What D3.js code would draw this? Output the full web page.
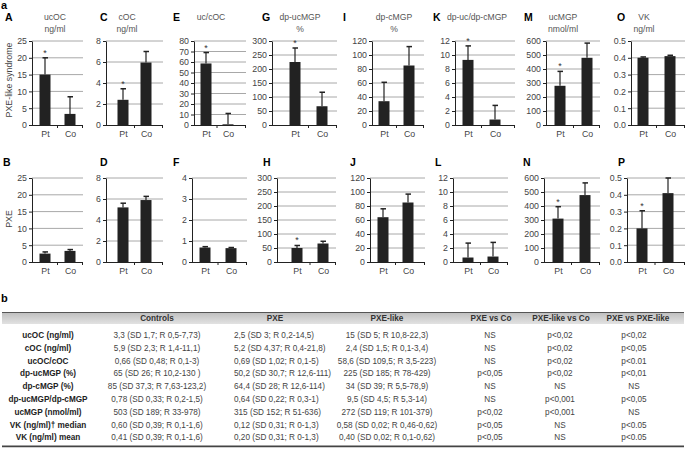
<!DOCTYPE html>
<html><head><meta charset="utf-8">
<script src="https://cdn.jsdelivr.net/npm/d3@7"></script>
<style>
body{margin:0;background:#fff;}
svg{display:block;font-family:"Liberation Sans",Arial,sans-serif;}
</style></head>
<body><svg id="c" width="685" height="451"></svg>
<script>
// ---------- DATA ----------
const panelLetters = ["A","C","E","G","I","K","M","O","B","D","F","H","J","L","N","P"];
const titleLine1 = ["ucOC","cOC","uc/cOC","dp-ucMGP","dp-cMGP","dp-uc/dp-cMGP","ucMGP","VK"];
const titleLine2 = ["ng/ml","ng/ml","","%","%","","nmol/ml","ng/ml"];
const groups = ["Pt","Co"];
const rowLabels = ["PXE-like syndrome","PXE"];
const yMax  = [25,8,80,300,120,12,600,0.5, 25,8,4,300,120,12,600,0.5];
const yStep = [5,2,10,50,20,2,100,0.1, 5,2,1,50,20,2,100,0.1];
const ptValues = [15,2.4,58.6,225,34,9.3,280,0.40, 2.5,5.2,0.69,50,64,0.64,310,0.20];
const ptErrTop = [20,3.45,69,275,61,11.3,383,0.405, 3.0,5.6,0.73,59,76,2.7,395,0.305];
const coValues = [3.3,5.95,0.66,67,85,0.78,480,0.41, 3.3,5.9,0.66,66,85,0.78,478,0.41];
const coErrTop = [8.4,7.0,11,117,112,2.8,585,0.415, 3.7,6.25,0.69,74,97,2.8,565,0.5];
const ptStar = [1,1,1,1,0,1,1,0, 0,0,0,1,0,0,1,1];

const tableHeaders = ["Controls","PXE","PXE-like","PXE vs Co","PXE-like vs Co","PXE vs PXE-like"];
const tableRowLabels = ["ucOC (ng/ml)","cOC (ng/ml)","ucOC/cOC","dp-ucMGP (%)","dp-cMGP (%)","dp-ucMGP/dp-cMGP","ucMGP (nmol/ml)","VK (ng/ml)† median","VK (ng/ml)  mean"];
const colControls = ["3,3 (SD 1,7; R 0,5-7,73)","5,9 (SD 2,3; R 1,4-11,1)","0,66 (SD 0,48; R 0,1-3)","65 (SD 26; R 10,2-130 )","85 (SD 37,3; R 7,63-123,2)","0,78 (SD 0,33; R 0,2-1,5)","503 (SD 189; R 33-978)","0,60 (SD 0,39; R 0,1-1,6)","0,41 (SD 0,39; R 0,1-1,6)"];
const colPXE = ["2,5 (SD 3; R 0,2-14,5)","5,2 (SD 4,37; R 0,4-21,8)","0,69 (SD 1,02; R 0,1-5)","50,2 (SD 30,7; R 12,6-111)","64,4 (SD 28; R 12,6-114)","0,64 (SD 0,22; R 0,3-1)","315 (SD 152; R 51-636)","0,12 (SD 0,31; R 0-1,3)","0,20 (SD 0,31; R 0-1,3)"];
const colPXElike = ["15 (SD 5; R 10,8-22,3)","2,4 (SD 1,5; R 0,1-3,4)","58,6 (SD 109,5; R 3,5-223)","225 (SD 185; R 78-429)","34 (SD 39; R 5,5-78,9)","9,5 (SD 4,5; R 5,3-14)","272 (SD 119; R 101-379)","0,58 (SD 0,02; R 0,46-0,62)","0,40 (SD 0,02; R 0,1-0,62)"];
const colPXEvsCo = ["NS","NS","NS","p<0,05","NS","NS","p<0,02","p<0,05","p<0,05"];
const colPXElikeVsCo = ["p<0,02","p<0,02","p<0,02","p<0,02","NS","p<0,001","p<0,001","NS","NS"];
const colPXEvsPXElike = ["p<0,02","p<0,05","p<0.01","p<0,01","NS","p<0,05","NS","p<0.05","p<0.05"];

// ---------- LAYOUT ----------
const layout = [
 {ax:32,end:83,pt:45,co:70},{ax:106,end:163,pt:123,co:146},{ax:194,end:246,pt:206,co:228},{ax:272,end:337,pt:295,co:322},
 {ax:372,end:424,pt:384,co:409},{ax:455,end:515,pt:468,co:495},{ax:546,end:600,pt:560,co:587},{ax:631,end:685,pt:643,co:670},
 {ax:32,end:83,pt:45,co:70},{ax:106,end:163,pt:123,co:146},{ax:192,end:247,pt:205,co:231},{ax:277,end:336,pt:297,co:323},
 {ax:370,end:425,pt:383,co:408},{ax:453,end:508,pt:468,co:493},{ax:544,end:600,pt:558,co:585},{ax:627,end:685,pt:642,co:668}
];
const letterX = [5,100,173,262,343,433,524,617, 3,100,173,263,350,435,523,618];
const titleX = [55,127,211,300,394,477,563,644];
const rowTop = [41,178], rowBot = [125,262];
const barW = 11;

const svg = d3.select("#c");
svg.append("text").attr("x",1).attr("y",9).attr("font-size",11).attr("font-weight","bold").text("a");

svg.append("text").attr("transform","translate(12,80) rotate(-90)").attr("text-anchor","middle")
  .attr("font-size",8.8).attr("fill","#444").text(rowLabels[0]);
svg.append("text").attr("transform","translate(12,219) rotate(-90)").attr("text-anchor","middle")
  .attr("font-size",8.8).attr("fill","#444").text(rowLabels[1]);

panelLetters.forEach((L,i)=>{
  const r = i<8?0:1, lay = layout[i];
  const g = svg.append("g");
  const y = d3.scaleLinear().domain([0,yMax[i]]).range([rowBot[r],rowTop[r]]);
  const x = d3.scalePoint().domain(groups).range([lay.pt,lay.co]);
  const ticks = d3.range(0, yMax[i]+yStep[i]/2, yStep[i]);
  const fmt = yStep[i]<1 ? d3.format(".1f") : d3.format("d");
  g.append("text").attr("x",letterX[i]).attr("y", r===0?21:166).attr("font-size",10.5)
   .attr("font-weight","bold").text(L);
  if(r===0){
    g.append("text").attr("x",titleX[i]).attr("y",20).attr("text-anchor","middle").attr("font-size",8.6)
     .attr("fill","#555").text(titleLine1[i]);
    if(titleLine2[i]) g.append("text").attr("x",titleX[i]).attr("y",32).attr("text-anchor","middle")
     .attr("font-size",8.6).attr("fill","#555").text(titleLine2[i]);
  }
  g.selectAll(".grid").data(ticks.filter(t=>t>0)).enter().append("line")
   .attr("x1",lay.ax).attr("x2",lay.end).attr("y1",d=>y(d)).attr("y2",d=>y(d))
   .attr("stroke","#a8a8a8").attr("stroke-width",1);
  const ya = g.append("g").attr("transform",`translate(${lay.ax},0)`)
    .call(d3.axisLeft(y).tickValues(ticks).tickFormat(fmt).tickSize(3).tickSizeOuter(0).tickPadding(2));
  ya.selectAll("text").attr("font-size",8.8).attr("fill","#444").attr("font-family","Liberation Sans, Arial, sans-serif");
  ya.select(".domain").attr("stroke","#222");
  ya.selectAll(".tick line").attr("stroke","#222");
  const vals=[ptValues[i],coValues[i]], errs=[ptErrTop[i],coErrTop[i]];
  groups.forEach((gname,k)=>{
    const cx=x(gname);
    g.append("line").attr("x1",cx).attr("x2",cx).attr("y1",y(vals[k])).attr("y2",y(errs[k]))
      .attr("stroke","#222").attr("stroke-width",1.2);
    g.append("line").attr("x1",cx-2.5).attr("x2",cx+3).attr("y1",y(errs[k])).attr("y2",y(errs[k]))
      .attr("stroke","#222").attr("stroke-width",1.5);
    g.append("rect").attr("x",cx-barW/2).attr("width",barW).attr("y",y(vals[k]))
      .attr("height",y(0)-y(vals[k])).attr("fill","#222");
  });
  if(ptStar[i]) g.append("text").attr("x",x("Pt")).attr("y",y(ptErrTop[i])-2).attr("text-anchor","middle")
     .attr("font-size",9).attr("fill","#333").text("*");
  const xa = g.append("g").attr("transform",`translate(0,${rowBot[r]})`)
    .call(d3.axisBottom(x).tickSize(0).tickPadding(6));
  xa.select(".domain").remove();
  xa.selectAll("text").attr("font-size",8.8).attr("fill","#444").attr("font-family","Liberation Sans, Arial, sans-serif");
  g.append("line").attr("x1",lay.ax).attr("x2",lay.end).attr("y1",rowBot[r]+0.5).attr("y2",rowBot[r]+0.5).attr("stroke","#222");
  const mid=(x("Pt")+x("Co"))/2;
  [mid,lay.end-0.5].forEach(tx=>g.append("line").attr("x1",tx).attr("x2",tx).attr("y1",rowBot[r]).attr("y2",rowBot[r]+3).attr("stroke","#222"));
});

// ---------- TABLE ----------
svg.append("text").attr("x",1).attr("y",302).attr("font-size",11).attr("font-weight","bold").text("b");
const defs = svg.append("defs");
const grad = defs.append("linearGradient").attr("id","hg").attr("x1",0).attr("x2",0).attr("y1",0).attr("y2",1);
grad.append("stop").attr("offset","0%").attr("stop-color","#bdbdbd");
grad.append("stop").attr("offset","100%").attr("stop-color","#e2e2e2");
const tTop=312, hH=12, row0=335, rowH=12.8;
svg.append("rect").attr("x",2).attr("y",tTop).attr("width",682).attr("height",hH).attr("fill","url(#hg)");
svg.append("line").attr("x1",2).attr("x2",684).attr("y1",tTop+0.5).attr("y2",tTop+0.5).attr("stroke","#555").attr("stroke-width",1);
const colX=[157,275,387,491,561,638];
tableHeaders.forEach((h,j)=>svg.append("text").attr("x",colX[j]).attr("y",tTop+9).attr("text-anchor","middle")
  .attr("font-size",8.2).attr("font-weight","bold").attr("fill","#333").text(h));
const cols=[colControls,colPXE,colPXElike,colPXEvsCo,colPXElikeVsCo,colPXEvsPXElike];
const colValX=[157,234,387,490,560,634];
tableRowLabels.forEach((lab,k)=>{
  const yy=row0+k*rowH+3;
  svg.append("text").attr("x",48).attr("y",yy).attr("text-anchor","middle").attr("font-size",8.2)
    .attr("font-weight","bold").attr("fill","#222").text(lab);
  cols.forEach((c,j)=>svg.append("text").attr("x",colValX[j]).attr("y",yy)
    .attr("text-anchor", j===1?"start":"middle").attr("font-size",8.2).attr("fill","#444").text(c[k]));
});
const tb=row0+8*rowH+9;
svg.append("line").attr("x1",2).attr("x2",684).attr("y1",tb).attr("y2",tb).attr("stroke","#444").attr("stroke-width",1.8);
</script></body></html>
